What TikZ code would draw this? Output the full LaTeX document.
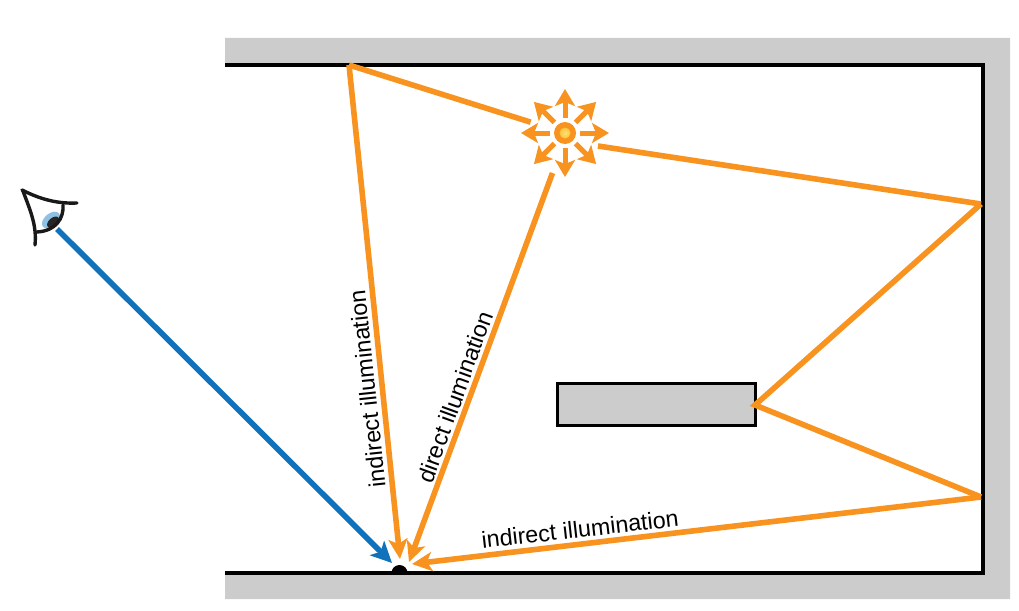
\documentclass[tikz,border=0pt]{standalone}
\usepackage{fontspec}
\setmainfont{Liberation Sans}
\usetikzlibrary{arrows.meta,positioning}
\definecolor{rayorange}{HTML}{F7931E}
\definecolor{eyeblue}{HTML}{0F72BA}
\definecolor{wallgray}{HTML}{CCCCCC}
\definecolor{irisblue}{HTML}{8FC1E3}
\definecolor{lampcore}{HTML}{FFE27A}
\definecolor{lampedge}{HTML}{FDC33C}
\tikzset{
  wall/.style={line width=4.3pt, black},
  ray/.style={line width=5.6pt, rayorange},
  rayhead/.style={ray, -{Stealth[length=20pt,width=19pt,inset=5pt]}},
  viewray/.style={line width=5.6pt, eyeblue, -{Stealth[length=21pt,width=20pt,inset=5pt]}},
  sunray/.style={line width=5pt, rayorange, -{Stealth[length=17pt,width=20pt,inset=4pt]}},
  lid/.style={line width=3.4pt, black!90, line cap=round},
  raylabel/.style={text=black, font=\fontsize{23.3}{26}\selectfont, inner sep=1pt}
}

\begin{document}
\begin{tikzpicture}[x=1pt,y=-1pt]
      \useasboundingbox (0, 0) rectangle (1019, 610);
      % walls
      \fill[wallgray] (225, 38) -- (1010, 38) -- (1010, 599) -- (225, 599) -- (225, 573) -- (983, 573) -- (983, 65) -- (225, 65) -- cycle;
      \draw[wall] (225, 65) -- (983, 65) -- (983, 573) -- (225, 573);
      \node[draw=black, line width=2.8pt, fill=wallgray, minimum width=198pt, minimum height=42pt, inner sep=0pt] (block) at (656.5, 404.5) {};

      \coordinate (lamp) at (565, 133);
      \coordinate (lampright) at (598, 146);
      \coordinate (lampdown) at (552.5, 173);
      \coordinate (ceil) at (349, 65);
      \coordinate (wallup) at (981, 204);
      \coordinate (walldown) at (981, 497);
      \coordinate (blockedge) at (755, 405);
      \coordinate (hitceil) at (400, 559);
      \coordinate (hitlamp) at (409, 562);
      \coordinate (hitwall) at (412, 564);
      \coordinate (hitview) at (392, 563);
      \coordinate (viewer) at (57, 229);

      % surface point
      \fill[black] (391.5, 573) arc (180:360:8) -- cycle;

      % bounced paths
      \draw[ray, shorten >=36pt] (ceil) -- (lamp);
      \draw[ray] (lampright) -- (wallup);
      \draw[ray] (wallup) -- (blockedge) -- (walldown);
      \draw[rayhead] (ceil) -- (hitceil);
      \draw[rayhead] (lampdown) -- (hitlamp);
      \draw[rayhead] (walldown) -- (hitwall);
      \draw[viewray] (viewer) -- (hitview);

      \node[raylabel, rotate=96] (labelceil) at (367, 389) {indirect illumination};
      \node[raylabel, rotate=70] (labellamp) at (455, 397) {direct illumination};
      \node[raylabel, rotate=6.5] (labelwall) at (580, 529) {indirect illumination};

      % lamp
      \foreach \a in {0,45,...,315} {
        \draw[sunray] (lamp) ++(\a:15) -- ++(\a:29);
      }
      \fill[rayorange] (lamp) circle (11);
      \shade[inner color=lampcore, outer color=lampedge] (lamp) circle (5.5);

      % eye
      \fill[irisblue] (51, 220) ellipse [x radius=10.5, y radius=6.5, rotate=40];
      \fill[black!85] (53, 222) ellipse [x radius=7, y radius=4, rotate=40];
      \draw[lid] (22, 190) .. controls (38, 198) and (55, 204) .. (77, 203);
      \draw[lid] (23, 191) .. controls (30, 210) and (37, 225) .. (35, 245);
      \draw[lid] (63, 205) .. controls (64, 218) and (56, 231) .. (37, 232);
\end{tikzpicture}
\end{document}
